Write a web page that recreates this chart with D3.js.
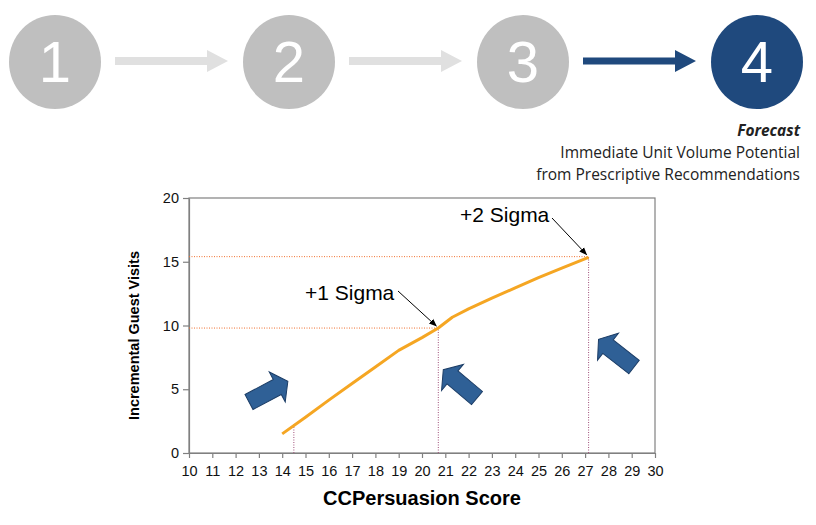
<!DOCTYPE html>
<html><head><meta charset="utf-8">
<script src="https://cdn.jsdelivr.net/npm/d3@7"></script>
<style>body{margin:0;background:#fff}svg{display:block}</style>
</head><body>
<svg id="c" width="816" height="525"></svg>
<script>
// ---- data ----
const steps = ["1", "2", "3", "4"];
const activeStep = 3;
const captionTitle = "Forecast";
const captionLines = ["Immediate Unit Volume Potential", "from Prescriptive Recommendations"];
const scoreX = [14, 15, 16, 17, 18, 19, 20, 20.7, 21.3, 22, 23, 24, 25, 26, 27.15];
const visitsY = [1.5, 2.8, 4.15, 5.45, 6.75, 8.05, 9.05, 9.8, 10.65, 11.3, 12.15, 12.95, 13.75, 14.5, 15.35];
const refScores = [14.5, 20.7, 27.15];
const refVisits = [2.3, 9.8, 15.4];
const xTicks = d3.range(10, 31);
const yTicks = [0, 5, 10, 15, 20];
const sigmaLabels = ["+1 Sigma", "+2 Sigma"];
const xTitle = "CCPersuasion Score";
const yTitle = "Incremental Guest Visits";

const svg = d3.select("#c");

// ---- top stepper ----
const stepX = d3.scalePoint().domain(steps).range([55, 757]);
const stepG = svg.append("g");
steps.forEach((s, i) => {
  const cx = stepX(s);
  stepG.append("ellipse").attr("cx", cx).attr("cy", 62).attr("rx", 46).attr("ry", 47)
    .attr("fill", i === activeStep ? "#1f497d" : "#bfbfbf");
  stepG.append("text").attr("x", cx).attr("y", 82).attr("text-anchor", "middle")
    .attr("fill", "#fff").attr("font-family", "'Liberation Sans Narrow', Arial, sans-serif")
    .attr("font-size", 58).text(s);
  if (i < steps.length - 1) {
    const x0 = cx + 60, x1 = stepX(steps[i + 1]) - 61;
    const col = i + 1 === activeStep ? "#1f497d" : "#e0e0e0";
    const sh = i + 1 === activeStep ? 3.5 : 4;
    const cy = 61;
    stepG.append("path").attr("fill", col)
      .attr("d", `M${x0},${cy - sh}L${x1 - 21},${cy - sh}L${x1 - 21},${cy - 11}L${x1},${cy}L${x1 - 21},${cy + 11}L${x1 - 21},${cy + sh}L${x0},${cy + sh}Z`);
  }
});

// caption
const cap = svg.append("text").attr("text-anchor", "end").attr("font-family", "'Open Sans', sans-serif")
  .attr("font-size", 15.5).attr("fill", "#222");
cap.append("tspan").attr("x", 800).attr("y", 136).attr("font-weight", "bold").attr("font-style", "italic").text(captionTitle);
captionLines.forEach((l, i) => cap.append("tspan").attr("x", 800).attr("y", 158 + i * 22).text(l));

// ---- chart ----
const L = 189, R = 655, T = 198, B = 453;
const x = d3.scaleLinear().domain([10, 30]).range([L, R]);
const y = d3.scaleLinear().domain([0, 20]).range([B, T]);

svg.append("rect").attr("x", L).attr("y", T).attr("width", R - L).attr("height", B - T)
  .attr("fill", "none").attr("stroke", "#808080").attr("stroke-width", 1.2);

const yAxis = svg.append("g").attr("transform", `translate(${L},0)`)
  .call(d3.axisLeft(y).tickValues(yTicks).tickSize(6).tickSizeOuter(0).tickPadding(4));
const xAxis = svg.append("g").attr("transform", `translate(0,${B})`)
  .call(d3.axisBottom(x).tickValues(xTicks).tickSize(5).tickSizeOuter(0).tickPadding(8));
[xAxis, yAxis].forEach(a => {
  a.selectAll("path,line").attr("stroke", "#808080").attr("stroke-width", 1.2);
  a.selectAll("text").attr("font-family", "Arial, 'Liberation Sans', sans-serif").attr("font-size", 14.5).attr("fill", "#111");
});

// reference dotted lines
refScores.forEach((s, i) => {
  svg.append("line").attr("x1", x(s)).attr("x2", x(s)).attr("y1", y(0)).attr("y2", y(refVisits[i]))
    .attr("stroke", "#a0507a").attr("stroke-width", 1).attr("stroke-dasharray", "1,1.5");
  if (i > 0) svg.append("line").attr("x1", x(10)).attr("x2", x(s)).attr("y1", y(refVisits[i])).attr("y2", y(refVisits[i]))
    .attr("stroke", "#f07030").attr("stroke-width", 1).attr("stroke-dasharray", "1,1.5");
});

// curve
const pts = scoreX.map((s, i) => [s, visitsY[i]]);
svg.append("path").datum(pts).attr("fill", "none").attr("stroke", "#f5a623").attr("stroke-width", 3)
  .attr("stroke-linejoin", "round")
  .attr("d", d3.line().x(d => x(d[0])).y(d => y(d[1])));

// sigma labels with leader arrows
svg.append("defs").append("marker").attr("id", "ah").attr("viewBox", "0 0 10 10").attr("refX", 9).attr("refY", 5)
  .attr("markerWidth", 8).attr("markerHeight", 8).attr("orient", "auto-start-reverse")
  .append("path").attr("d", "M0,1L10,5L0,9Z").attr("fill", "#000");
const lab = [
  { t: sigmaLabels[0], tx: 305, ty: 300, lx1: 398, ly1: 291, i: 1 },
  { t: sigmaLabels[1], tx: 460, ty: 222, lx1: 552, ly1: 218, i: 2 }
];
lab.forEach(l => {
  svg.append("text").attr("x", l.tx).attr("y", l.ty).attr("font-family", "Arial, 'Liberation Sans', sans-serif")
    .attr("font-size", 21).attr("fill", "#000").text(l.t);
  svg.append("line").attr("x1", l.lx1).attr("y1", l.ly1)
    .attr("x2", x(refScores[l.i]) - 2).attr("y2", y(refVisits[l.i]) - 2)
    .attr("stroke", "#000").attr("stroke-width", 1).attr("marker-end", "url(#ah)");
});

// block arrows (tail center, angle deg, length)
const blockArrows = [
  { cx: 249, cy: 402, ang: -28, len: 44 },
  { cx: 477, cy: 398, ang: -140, len: 44 },
  { cx: 634, cy: 367, ang: -142, len: 45 }
];
blockArrows.forEach(a => {
  const hl = 12, sw = 8.5, hw = 17, sl = a.len - hl;
  const poly = [[0, -sw], [sl, -sw], [sl, -hw], [a.len, 0], [sl, hw], [sl, sw], [0, sw]];
  svg.append("polygon").attr("points", poly.map(p => p.join(",")).join(" "))
    .attr("transform", `translate(${a.cx},${a.cy}) rotate(${a.ang})`)
    .attr("fill", "#2f6096").attr("stroke", "#1c3d66").attr("stroke-width", 1);
});

// titles
svg.append("text").attr("x", (L + R) / 2).attr("y", 505).attr("text-anchor", "middle")
  .attr("font-family", "Arial, 'Liberation Sans', sans-serif").attr("font-weight", "bold").attr("font-size", 20)
  .attr("fill", "#000").text(xTitle);
svg.append("text").attr("transform", `translate(139,${(T + B) / 2 + 10}) rotate(-90)`).attr("text-anchor", "middle")
  .attr("font-family", "Arial, 'Liberation Sans', sans-serif").attr("font-weight", "bold").attr("font-size", 14.5)
  .attr("fill", "#000").text(yTitle);
</script>
</body></html>
